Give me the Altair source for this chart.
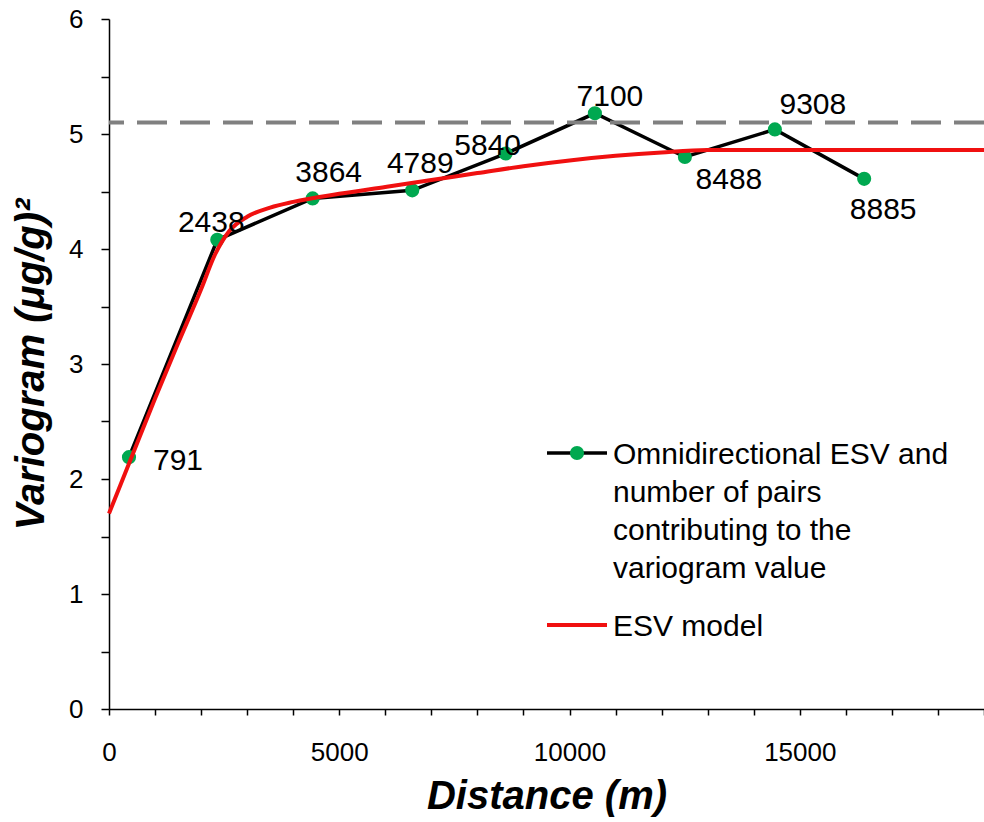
import altair as alt
import pandas as pd

# ---- data ----
distance = [434, 2351, 4422, 6585, 8613, 10551, 12505, 14459, 16398]
variogram = [2.19, 4.08, 4.44, 4.51, 4.83, 5.18, 4.80, 5.04, 4.61]
pairs = ["791", "2438", "3864", "4789", "5840", "7100", "8488", "9308", "8885"]

model_distance = [0, 500, 1000, 1500, 2000, 2300, 2600, 3000, 3500, 4000, 5000,
                  6000, 7000, 8000, 9000, 10000, 11000, 12000, 13000, 19000]
model_value = [1.70, 2.20, 2.70, 3.18, 3.65, 3.95, 4.15, 4.28, 4.36, 4.41, 4.48,
               4.54, 4.60, 4.66, 4.72, 4.77, 4.81, 4.84, 4.86, 4.86]

sill = [5.1]

x_ticks = list(range(0, 19001, 1000))
y_ticks = [i * 0.5 for i in range(13)]

legend_series = ["Omnidirectional ESV and", "number of pairs",
                 "contributing to the", "variogram value"]
legend_model = "ESV model"

# label offsets (layout only)
label_offsets = [(49, 4), (-6, -17), (16, -25), (8, -26), (-18, -8),
                 (15, -16), (44, 23), (38, -24), (19, 31)]

FONT = "Liberation Sans"
GREEN = "#00A850"
RED = "#F01010"

df = pd.DataFrame({"distance": distance, "variogram": variogram, "pairs": pairs})
df_model = pd.DataFrame({"distance": model_distance, "value": model_value})
df_sill = pd.DataFrame({"sill": sill})

x_enc = alt.X(
    "distance:Q",
    scale=alt.Scale(domain=[0, 19000], nice=False, zero=True),
    axis=alt.Axis(
        values=x_ticks,
        labelExpr="datum.value % 5000 == 0 ? format(datum.value, 'd') : ''",
        title="Distance (m)",
        titleFont=FONT, titleFontSize=40, titleFontWeight="bold", titleFontStyle="italic",
        titleX=437.5, titleY=99, titleBaseline="alphabetic",
        labelFont=FONT, labelFontSize=26, labelColor="black", labelPadding=24,
        tickSize=6, labelFlush=False, labelOverlap=False, grid=False,
    ),
)
y_enc = alt.Y(
    "variogram:Q",
    scale=alt.Scale(domain=[0, 6], nice=False),
    axis=alt.Axis(
        values=y_ticks,
        labelExpr="datum.value % 1 == 0 ? format(datum.value, 'd') : ''",
        title="Variogram (μg/g)²",
        titleFont=FONT, titleFontSize=40, titleFontWeight="bold", titleFontStyle="italic",
        titleX=-66, titleY=345, titleAngle=-90, titleBaseline="alphabetic", titleAlign="center",
        labelFont=FONT, labelFontSize=26, labelColor="black", labelPadding=18,
        tickSize=8, labelFlush=False, labelOverlap=False, grid=False,
    ),
)

sill_rule = alt.Chart(df_sill).mark_rule(
    color="#808080", strokeWidth=4, strokeDash=[30, 13]
).encode(y=alt.Y("sill:Q", scale=alt.Scale(domain=[0, 6], nice=False)))

black_line = alt.Chart(df).mark_line(color="black", strokeWidth=3.5).encode(x=x_enc, y=y_enc)
points = alt.Chart(df).mark_circle(color=GREEN, opacity=1, size=200).encode(
    x="distance:Q", y="variogram:Q")

model_line = alt.Chart(df_model).mark_line(color=RED, strokeWidth=4, interpolate="monotone").encode(
    x="distance:Q", y=alt.Y("value:Q"))

label_layers = []
for i, (dx, dy) in enumerate(label_offsets):
    label_layers.append(
        alt.Chart(df).transform_filter(alt.datum.pairs == pairs[i]).mark_text(
            font=FONT, fontSize=30, color="black", align="center", baseline="middle",
            dx=dx, dy=dy,
        ).encode(x="distance:Q", y="variogram:Q", text="pairs:N")
    )

# manual legend
leg1_line = alt.Chart(df_sill).mark_rule(color="black", strokeWidth=3.5).encode(
    x=alt.value(438), x2=alt.value(498), y=alt.value(434))
leg1_dot = alt.Chart(df_sill).mark_circle(color=GREEN, opacity=1, size=200).encode(
    x=alt.value(468), y=alt.value(434))
leg1_text = alt.Chart(df_sill).mark_text(
    font=FONT, fontSize=30, align="left", baseline="alphabetic", lineHeight=38, color="black"
).encode(x=alt.value(504), y=alt.value(445), text=alt.value(legend_series))
leg2_line = alt.Chart(df_sill).mark_rule(color=RED, strokeWidth=4).encode(
    x=alt.value(438), x2=alt.value(498), y=alt.value(606))
leg2_text = alt.Chart(df_sill).mark_text(
    font=FONT, fontSize=30, align="left", baseline="alphabetic", color="black"
).encode(x=alt.value(504), y=alt.value(617), text=alt.value(legend_model))

chart = alt.layer(
    black_line, sill_rule, points, model_line, *label_layers,
    leg1_line, leg1_dot, leg1_text, leg2_line, leg2_text,
).properties(
    width=875, height=690,
    padding={"left": 109, "top": 19, "right": 0, "bottom": 113},
    autosize=alt.AutoSizeParams(type="none"),
    background="white",
).configure_view(stroke=None).configure_axis(
    domainColor="black", domainWidth=1.5, tickColor="black", tickWidth=1.5,
)

chart.save("out.html", embed_options={"renderer": "svg", "actions": False})
